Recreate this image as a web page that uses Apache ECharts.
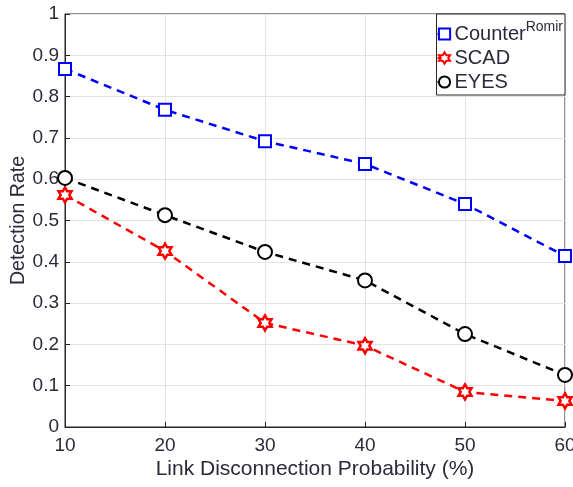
<!DOCTYPE html>
<html><head><meta charset="utf-8">
<script src="https://cdn.jsdelivr.net/npm/echarts@6/dist/echarts.min.js"></script>
<style>html,body{margin:0;padding:0;background:#fff}#c{width:573px;height:487px}</style>
</head><body><div id="c"></div>
<script>
const xValues = [10, 20, 30, 40, 50, 60];
const counterRomir = [0.867, 0.768, 0.692, 0.637, 0.540, 0.414];
const scad = [0.562, 0.426, 0.252, 0.197, 0.085, 0.063];
const eyes = [0.603, 0.513, 0.424, 0.355, 0.225, 0.126];

const hexagram = 'path://M0,-100L28.9,-50L86.6,-50L57.7,0L86.6,50L28.9,50L0,100L-28.9,50L-86.6,50L-57.7,0L-86.6,-50L-28.9,-50Z';
const txt = '#2a2a3a';
const font = 'Liberation Sans, Arial, sans-serif';
function pts(v){ return xValues.map((x,i)=>[x, v[i]]); }
const chart = echarts.init(document.getElementById('c'));
chart.setOption({
  animation: false,
  backgroundColor: '#fff',
  grid: {left: 65, right: 8, top: 14, bottom: 60, show: true, borderColor: '#262626', borderWidth: 1,
         containLabel: false, outerBoundsMode: 'none'},
  xAxis: {
    type: 'value', min: 10, max: 60, interval: 10,
    name: 'Link Disconnection Probability (%)', nameLocation: 'middle', nameGap: 32, nameMoveOverlap: false,
    nameTextStyle: {fontFamily: font, fontSize: 21, color: txt},
    axisLine: {lineStyle: {color: '#262626'}},
    axisTick: {inside: true, length: 5, lineStyle: {color: '#262626'}},
    axisLabel: {fontFamily: font, fontSize: 19, color: txt, margin: 9},
    splitLine: {show: true, lineStyle: {color: '#e3e3e3'}}
  },
  yAxis: {
    type: 'value', min: 0, max: 1, interval: 0.1,
    name: 'Detection Rate', nameLocation: 'middle', nameGap: 36, nameMoveOverlap: false,
    nameTextStyle: {fontFamily: font, fontSize: 19.5, color: txt},
    axisLine: {show: true, lineStyle: {color: '#262626'}},
    axisTick: {show: true, inside: true, length: 5, lineStyle: {color: '#262626'}},
    axisLabel: {fontFamily: font, fontSize: 19, color: txt, margin: 6, formatter: v => String(+v.toFixed(1))},
    splitLine: {show: true, lineStyle: {color: '#e3e3e3'}}
  },
  legend: {
    orient: 'vertical', right: 8, top: 14, padding: [6, 2, 3, 0], itemGap: 4,
    backgroundColor: '#fff', borderColor: '#262626', borderWidth: 1, borderRadius: 0,
    itemWidth: 14, itemHeight: 14,
    textStyle: {fontFamily: font, fontSize: 20, color: txt, padding: [0, 0, 0, -2],
      rich: {a: {fontFamily: font, fontSize: 20, color: txt},
             b: {fontFamily: font, fontSize: 14, color: txt, padding: [0, 0, 14, 0]}}},
    formatter: n => n === 'Counter' ? '{a|Counter}{b|Romir}' : n,
    data: ['Counter', 'SCAD', 'EYES']
  },
  series: [
    {name: 'Counter', type: 'line', data: pts(counterRomir), symbol: 'emptyRect', symbolSize: 12,
     lineStyle: {color: '#0000ff', type: [8, 6], width: 2.5},
     itemStyle: {color: '#0000ff', borderColor: '#0000ff', borderWidth: 2.5}},
    {name: 'SCAD', type: 'line', data: pts(scad), symbol: hexagram, symbolSize: 15, symbolKeepAspect: true,
     lineStyle: {color: '#ff0000', type: [8, 6], width: 2.5},
     itemStyle: {color: '#fff', borderColor: '#ff0000', borderWidth: 2.5}},
    {name: 'EYES', type: 'line', data: pts(eyes), symbol: 'emptyCircle', symbolSize: 14,
     lineStyle: {color: '#000000', type: [8, 6], width: 2.5},
     itemStyle: {color: '#000000', borderColor: '#000000', borderWidth: 2.5}}
  ]
});
</script></body></html>
